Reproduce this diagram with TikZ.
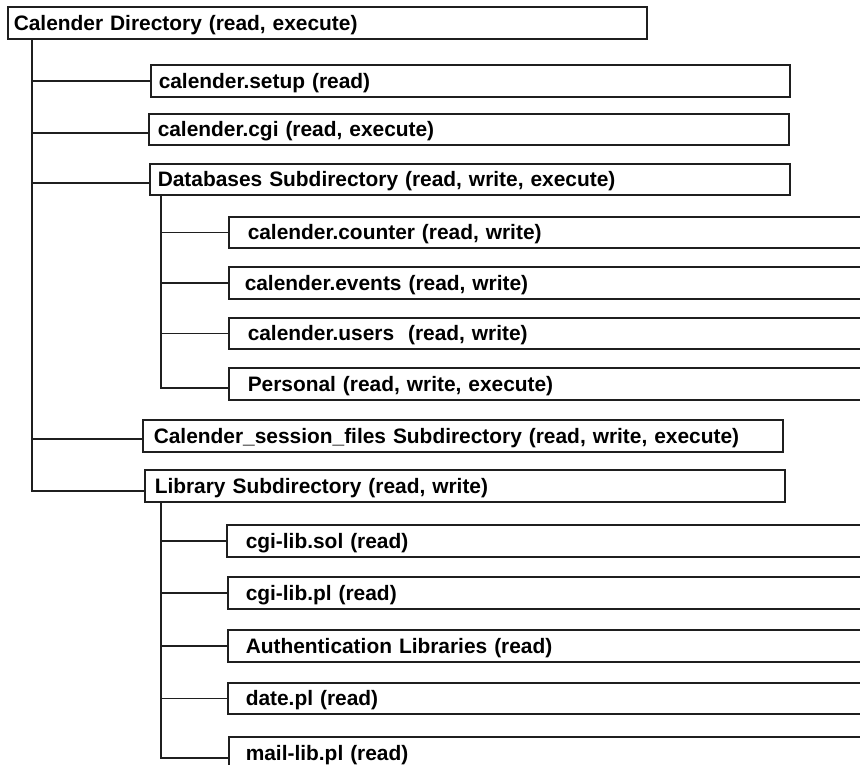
\documentclass[tikz,border=0pt]{standalone}
\usepackage{fontspec}
\setmainfont{Liberation Sans}
\begin{document}
\begin{tikzpicture}[x=1pt,y=-1pt,
  ln/.style={line width=1.5pt,draw=black!88},
  fbox/.style n args={4}{ln,anchor=north west,font=\fontsize{20.9}{22}\selectfont\bfseries,
    inner ysep=0pt,inner xsep=#3,text width=#1-2*#3,minimum height=#2,align=left,text depth=0pt,text height=14.5pt},
]
\useasboundingbox (0,0) rectangle (860,764);
\clip (0,0) rectangle (860,764);
% root
\node[fbox={639pt}{32pt}{6pt}{}] (root) at (7,6) {Calender Directory (read, execute)};
% level 1
\node[fbox={639pt}{32pt}{8pt}{}] (setup) at (150,64) {calender.setup (read)};
\node[fbox={640pt}{31pt}{9pt}{}] (cgi) at (148,113) {calender.cgi (read, execute)};
\node[fbox={640pt}{31pt}{8pt}{}] (db) at (149,163) {Databases Subdirectory (read, write, execute)};
\node[fbox={640pt}{32pt}{11pt}{}] (sess) at (142,419) {Calender\_session\_files Subdirectory (read, write, execute)};
\node[fbox={640pt}{32pt}{10pt}{}] (lib) at (144,469) {Library Subdirectory (read, write)};
% level 2 under Databases
\node[fbox={660pt}{31pt}{19pt}{}] (counter) at (228,216) {calender.counter (read, write)};
\node[fbox={660pt}{32pt}{16pt}{}] (events) at (228,266) {calender.events (read, write)};
\node[fbox={660pt}{31pt}{19pt}{}] (users) at (228,317) {calender.users\ \ (read, write)};
\node[fbox={660pt}{32pt}{19pt}{}] (personal) at (228,367) {Personal (read, write, execute)};
% level 2 under Library
\node[fbox={660pt}{32pt}{19pt}{}] (sol) at (226,524) {cgi-lib.sol (read)};
\node[fbox={660pt}{32pt}{18pt}{}] (pl) at (227,576) {cgi-lib.pl (read)};
\node[fbox={660pt}{32pt}{18pt}{}] (auth) at (227,629) {Authentication Libraries (read)};
\node[fbox={660pt}{31pt}{18pt}{}] (date) at (227,682) {date.pl (read)};
\node[fbox={660pt}{32pt}{17pt}{}] (mail) at (228,736) {mail-lib.pl (read)};
% trunks
\coordinate (t0) at (32,38);
\coordinate (d0) at (161,194);
\coordinate (l0) at (161,501);
\draw[ln] (t0) |- ([yshift=-5pt]lib.west);
\draw[ln] (t0 |- setup.west) -- (setup.west);
\draw[ln] ([yshift=-3.5pt]cgi.west -| t0) -- ([yshift=-3.5pt]cgi.west);
\draw[ln] ([yshift=-3.5pt]db.west -| t0) -- ([yshift=-3.5pt]db.west);
\draw[ln] ([yshift=-3pt]sess.west -| t0) -- ([yshift=-3pt]sess.west);
\draw[ln] (d0) |- ([yshift=-4pt]personal.west);
\draw[ln] (counter.west -| d0) -- (counter.west);
\draw[ln] (events.west -| d0) -- (events.west);
\draw[ln] (users.west -| d0) -- (users.west);
\draw[ln] (l0) |- ([yshift=-5pt]mail.west);
\draw[ln] (sol.west -| l0) -- (sol.west);
\draw[ln] (pl.west -| l0) -- (pl.west);
\draw[ln] (auth.west -| l0) -- (auth.west);
\draw[ln] (date.west -| l0) -- (date.west);
\end{tikzpicture}
\end{document}
